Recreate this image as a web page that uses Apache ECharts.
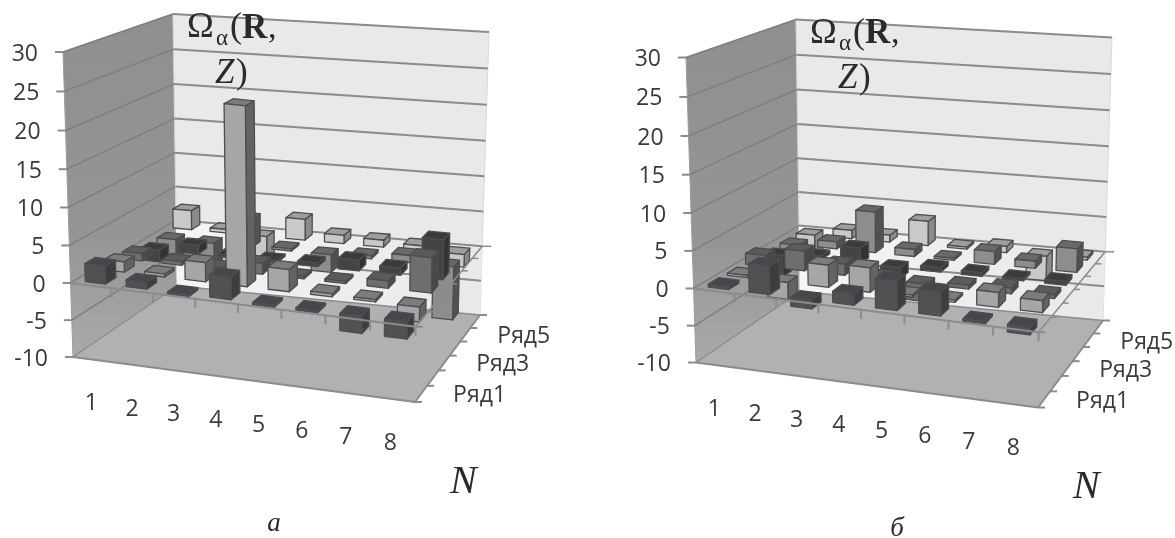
<!DOCTYPE html>
<html><head><meta charset="utf-8">
<style>html,body{margin:0;padding:0;background:#fff}#c{width:1175px;height:538px;filter:blur(0.55px)}</style>
<script src="https://cdn.jsdelivr.net/npm/echarts@6/dist/echarts.min.js"></script>
</head><body><div id="c"></div>
<script>
const categories = ['1','2','3','4','5','6','7','8'];
const rowNames = ['Ряд1','Ряд2','Ряд3','Ряд4','Ряд5','Ряд6'];
const rowLabels = ['Ряд1','Ряд3','Ряд5'];
const valueTicks = [-10,-5,0,5,10,15,20,25,30];
// panel a
const a1 = [2.4, 0.9, -0.3, 3.0, -0.3, -0.3, -2.3, -2.3];
const a2 = [1.4, 0.4, 2.6, 24, 3.0, 0.4, 0.3, -2.0];
const a3 = [1.0, 0.5, 0.3, 1.5, 0.3, 0.3, 1.0, 4.8];
const a4 = [-1.7, 1.2, 0.3, 0.3, 0.5, 1.5, 1.0, 5.5];
const a5 = [-2.7, -3.5, 4.0, 0.3, -2.5, 0.4, 1.0, -7.5];
const a6 = [2.8, 0.5, -3.4, 3.0, 1.2, 1.0, 0.7, -1.8];
// panel b
const b1 = [0.4, 3.8, -1.2, 1.5, 3.9, 3.2, -0.3, -1.0];
const b2 = [0.3, -2.3, 3.0, 3.3, 0.3, 0.3, 2.0, 1.6];
const b3 = [1.5, 2.7, 1.5, 0.3, -2.4, 0.5, 0.8, 0.5];
const b4 = [-3.0, 0.5, 2.2, -1.5, 0.6, 0.5, 0.3, 0.5];
const b5 = [-1.5, 1.0, 5.8, 1.0, 0.3, 1.8, 1.0, 3.3];
const b6 = [-2.8, 1.2, 1.0, 3.5, 0.3, 0.9, -3.5, 0.4];

const faces = [
  ['#505153','#3c3d3f','#46474a'],
  ['#a5a6a8','#626365','#7b7c7e'],
  ['#6d6e70','#48494b','#5a5b5d'],
  ['#434446','#323335','#3a3b3d'],
  ['#8c8d8f','#505153','#68696b'],
  ['#c8c9cb','#8a8b8d','#9d9ea0']
];
const edge = '#4c4d4f', lineC = '#8a8b8d', textC = '#3a3a3a';
const NF = '"Open Sans"', SF = '"Liberation Serif"';

// scene corners of the 3D box inside a panel
const FLb=[73,357],FRb=[415,402],BLb=[177,286],BRb=[480,315];
const FLt=[63,52], FRt=[417,92], BLt=[173,14], BRt=[489,32];
const mix=(p,q,t)=>[p[0]+(q[0]-p[0])*t,p[1]+(q[1]-p[1])*t];
function project(n,d,v){
  const u0=n/8,w0=d/6,t0=(v+10)/40;
  const u=u0/(1.06-0.06*u0), w=w0*1.14/(1+0.14*w0), t=t0/(1.04-0.04*t0);
  const b=mix(mix(FLb,FRb,u),mix(BLb,BRb,u),w);
  const h=mix(mix(FLt,FRt,u),mix(BLt,BRt,u),w);
  return mix(b,h,t);
}
const poly=(api,pts,style,extra)=>Object.assign({type:'polygon',shape:{points:pts.map(p=>api.coord(p))},style},extra||{});
const line=(api,p,q,w,c)=>({type:'line',shape:{x1:api.coord(p)[0],y1:api.coord(p)[1],x2:api.coord(q)[0],y2:api.coord(q)[1]},style:{stroke:c||lineC,lineWidth:w||2,fill:null}});
const txt=(api,p,s,font,align,extra)=>{const c=api.coord(p);return {type:'text',style:Object.assign({text:s,x:c[0],y:c[1],font:font,fill:textC,align:align||'center',verticalAlign:'middle'},extra||{})};};

function renderBack(params,api){
  const ch=[];
  const c0=[project(0,6,0),project(8,6,0),BRb,BLb];
  ch.push(poly(api,[FLt,BLt,BLb,FLb],{fill:new echarts.graphic.LinearGradient(0,0,0,1,[{offset:0,color:'#8e8f91'},{offset:0.65,color:'#949597'},{offset:1,color:'#a9aaac'}]),stroke:'#9a9b9d',lineWidth:1}));
  ch.push(poly(api,[BLt,BRt,BRb,BLb],{fill:'#e8e9ea',stroke:'#d8d9da',lineWidth:1}));
  ch.push(poly(api,c0,{fill:new echarts.graphic.LinearGradient(0,0,1,0,[{offset:0,color:'#f5f5f6'},{offset:0.5,color:'#eeeeef'},{offset:1,color:'#e8e9ea'}])}));
  ch.push(poly(api,[FLb,FRb,BRb,BLb],{fill:'#b0b1b3'}));
  valueTicks.forEach(v=>{
    const f=project(0,0,v),b=project(0,6,v),r=project(8,6,v);
    ch.push(line(api,f,b,1.4,v===-10?'#8a8b8d':'#7c7d7f'));
    ch.push(line(api,b,r,v===-10?1.5:2,lineC));
    ch.push(line(api,f,[f[0]-8,f[1]],2,lineC));
    ch.push(txt(api,[f[0]-25,f[1]+2],String(v),'23px '+NF,'right'));
  });
  ch.push(line(api,FLb,FRb,2,lineC));
  ch.push(line(api,FRb,BRb,2,lineC));
  ch.push(line(api,FRb,[FRb[0]+7,FRb[1]],2,lineC));
  for(let d=1;d<=6;d++){const p=project(8,d,-10);ch.push(line(api,p,[p[0]+7,p[1]],2,lineC));}
  categories.forEach((c,i)=>{
    const p=project(i+0.5,0,-10);
    ch.push(txt(api,[p[0]-2,p[1]+44],c,'23px '+NF));
  });
  rowLabels.forEach((s,i)=>{
    const p=project(8,i*2+0.5,-10);
    ch.push(txt(api,[p[0]+32,p[1]+2],s,'23px '+NF,'left'));
  });
  return {type:'group',children:ch};
}
function renderBar(row){return function(params,api){
  const n=api.value(0),v=api.value(1);
  const x0=n-0.5-0.25,x1=n-0.5+0.25,d0=row+0.5-0.27,d1=row+0.5+0.27;
  const hi=Math.max(v,0),lo=Math.min(v,0),f=faces[row];
  const st=c=>({fill:c,stroke:edge,lineWidth:1.3,lineJoin:'round'});
  return {type:'group',children:[
    poly(api,[project(x1,d0,hi),project(x1,d1,hi),project(x1,d1,lo),project(x1,d0,lo)],st(f[1])),
    poly(api,[project(x0,d0,hi),project(x1,d0,hi),project(x1,d1,hi),project(x0,d1,hi)],st(f[2])),
    poly(api,[project(x0,d0,hi),project(x1,d0,hi),project(x1,d0,lo),project(x0,d0,lo)],st(f[0]))
  ]};
};}
function renderFront(params,api){
  const ch=[];
  const a=project(0,0,0),b=project(8,0,0),c=project(8,6,0);
  ch.push(line(api,a,b,2,lineC));
  ch.push(line(api,b,c,1.5,lineC));
  ch.push(line(api,b,[b[0]+7,b[1]],2,lineC));
  ch.push(line(api,c,[c[0]+9,c[1]],1.5,lineC));
  for(let d=1;d<6;d++){const p=project(8,d,0);ch.push(line(api,p,[p[0]+6,p[1]],1.5,lineC));}
  for(let i=1;i<=8;i++){const p=project(i,0,0);ch.push(line(api,p,[p[0],p[1]+9],2,lineC));}
  return {type:'group',children:ch};
}
function renderText(letter){return function(params,api){
  const ts=(p,s,font,al)=>txt(api,p,s,font,al||'left',{verticalAlign:'bottom',fill:'#2a2a2a'});
  return {type:'group',children:[
    ts([187,46],'Ω','36px '+SF),
    ts([216,50],'α','23px '+SF),
    ts([230,46],'(','36px '+SF),
    ts([242,46],'R','bold 35px '+SF),
    ts([268,46],',','34px '+SF),
    ts([215,91],'Z','italic 35px '+SF),
    ts([236,91],')','35px '+SF),
    ts([450,502],'N','italic 40px '+SF),
    ts(letter.pos,letter.s,'italic 27px '+SF,'center')
  ]};
};}

const chart=echarts.init(document.getElementById('c'),null,{renderer:'canvas'});
const panels=[{left:0,top:0,rows:[a1,a2,a3,a4,a5,a6],letter:{s:'а',pos:[274,537]}},
              {left:623,top:5.5,rows:[b1,b2,b3,b4,b5,b6],letter:{s:'б',pos:[274,537]}}];
const grids=[],xs=[],ys=[],series=[];
panels.forEach((p,i)=>{
  grids.push({left:p.left,top:p.top,width:552,height:532,containLabel:false,show:false});
  xs.push({type:'value',gridIndex:i,min:0,max:552,show:false});
  ys.push({type:'value',gridIndex:i,min:0,max:532,inverse:true,show:false});
  const base={type:'custom',xAxisIndex:i,yAxisIndex:i,silent:true,animation:false};
  series.push(Object.assign({},base,{name:'frame',z:1,data:[[0,0]],renderItem:renderBack}));
  p.rows.forEach((vals,r)=>{
    series.push(Object.assign({},base,{name:rowNames[r],z:20-r,data:vals.map((v,k)=>[k+1,v]),renderItem:renderBar(r)}));
  });
  series.push(Object.assign({},base,{name:'front',z:30,data:[[0,0]],renderItem:renderFront}));
  series.push(Object.assign({},base,{name:'text',z:31,data:[[0,0]],renderItem:renderText(p.letter)}));
});
chart.setOption({animation:false,backgroundColor:'#fff',grid:grids,xAxis:xs,yAxis:ys,series:series});
</script></body></html>
